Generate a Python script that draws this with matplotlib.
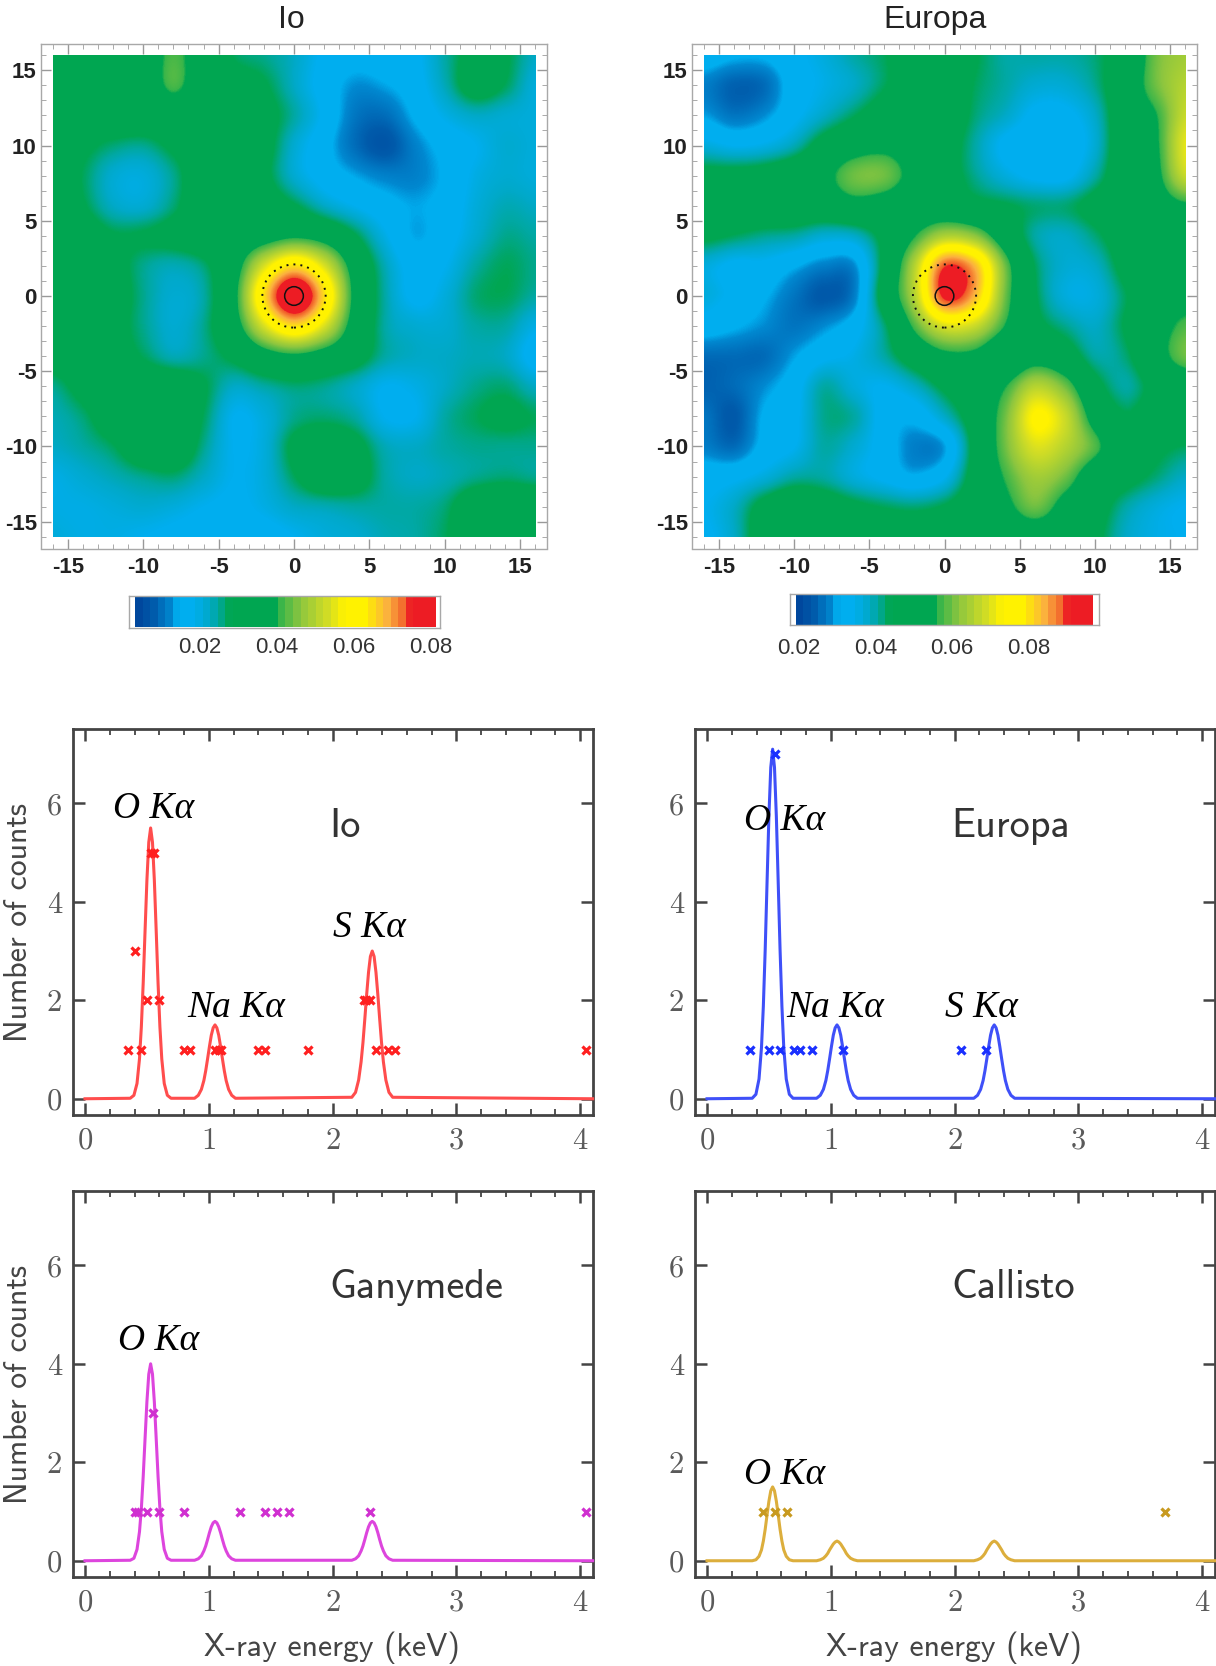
import numpy as np
import matplotlib
matplotlib.use("Agg")
import matplotlib.pyplot as plt
from matplotlib.colors import LinearSegmentedColormap
from matplotlib.patches import Circle, Rectangle
from matplotlib.ticker import FixedLocator, FixedFormatter

W, H = 1216, 1666

# ---------- map data (units of 0.001), rows y=16..-16, columns x=-16..16, step 2
io_map = [
 [33,33,33,35,42,35,27,25,22,17,15,16,17,24,30,28,22],
 [33,33,33,34,42,34,31,28,22,16,12,13,16,23,31,27,20],
 [32,32,33,33,34,34,33,30,24,17,10, 9,14,19,22,21,20],
 [32,29,26,25,29,33,33,30,21,15, 9, 6,11,15,18,21,20],
 [32,27,21,20,25,33,33,29,21,16,13,11,11,14,19,21,20],
 [33,28,22,21,26,33,33,32,28,22,18,15,13,15,20,23,22],
 [33,32,28,28,30,33,33,36,39,36,28,19,13,16,21,25,24],
 [33,33,30,25,23,26,36,54,65,54,36,23,16,18,24,27,25],
 [33,33,31,25,21,24,38,65,84,65,38,24,17,20,26,27,24],
 [33,33,30,25,21,25,36,54,65,54,36,24,21,21,24,24,19],
 [31,33,31,27,23,25,29,36,39,36,31,24,22,22,23,22,16],
 [25,30,33,33,33,28,22,24,26,25,22,18,19,22,25,26,22],
 [23,26,32,34,34,27,18,20,25,26,24,18,18,24,27,29,27],
 [22,24,27,33,34,25,18,20,29,33,30,23,22,24,25,25,25],
 [19,21,23,25,26,22,18,20,27,33,31,24,22,23,25,26,25],
 [19,19,20,21,20,18,17,19,22,23,24,24,24,26,33,35,34],
 [20,19,19,18,17,16,15,16,18,20,21,23,24,27,33,35,33],
]
europa_map = [
 [32,30,30,33,36,40,43,48,50,44,40,40,40,42,48,60,64],
 [27,24,25,32,35,38,43,48,49,43,40,37,37,41,50,60,66],
 [29,26,28,33,38,43,48,50,49,42,38,33,33,38,50,56,68],
 [36,34,35,39,47,52,54,51,47,40,33,31,31,37,50,55,71],
 [46,46,47,50,54,60,60,53,47,41,36,33,33,40,50,54,68],
 [50,50,50,50,50,53,52,50,49,46,44,42,42,46,51,52,55],
 [45,43,41,40,37,38,46,56,65,62,50,40,38,42,48,50,45],
 [36,33,33,30,27,28,46,66,90,84,60,43,37,38,46,50,45],
 [36,33,30,26,23,27,48,66,92,84,60,44,36,36,43,50,52],
 [32,30,28,26,28,32,42,58,70,68,56,46,41,38,44,52,58],
 [25,25,25,29,33,35,40,48,54,54,48,52,48,40,42,52,60],
 [24,25,28,32,40,36,34,38,45,50,56,66,60,46,40,46,50],
 [26,23,30,33,41,40,32,31,38,48,60,74,68,52,44,48,50],
 [27,25,31,34,40,37,32,27,29,46,60,70,66,58,48,45,43],
 [32,33,36,40,40,36,33,30,34,47,57,64,60,50,46,42,38],
 [34,38,46,50,48,45,43,42,44,49,54,60,53,47,40,36,34],
 [33,38,48,50,50,49,49,49,49,49,50,51,50,45,38,35,34],
]
map_names = ["Io", "Europa"]
io_range = [0.0031, 0.0813]
europa_range = [0.0194, 0.0966]
cbar_ticks = [0.02, 0.04, 0.06, 0.08]
map_ticks = [-15, -10, -5, 0, 5, 10, 15]

# ---------- spectra: curve samples
energy = [0,
 .365,.395,.42,.44,.455,.47,.485,.50,.515,.53,.545,.56,.575,.59,.605,.62,.64,.665,.695,
 .885,.915,.94,.96,.975,.99,1.005,1.02,1.035,1.05,1.065,1.08,1.095,1.11,1.125,1.14,1.16,1.185,1.215,
 2.155,2.185,2.21,2.23,2.245,2.26,2.275,2.29,2.305,2.32,2.335,2.35,2.365,2.38,2.395,2.41,2.43,2.455,2.485,
 4.1]
io_o   = [.01,.07,.31,.81,1.46,2.35,3.41,4.44,5.21,5.5,5.21,4.44,3.41,2.35,1.46,.81,.31,.07,.01]
eu_o   = [.01,.09,.40,1.04,1.88,3.03,4.40,5.74,6.73,7.1,6.73,5.74,4.40,3.03,1.88,1.04,.40,.09,.01]
ga_o   = [.01,.05,.23,.59,1.06,1.71,2.48,3.23,3.79,4.0,3.79,3.23,2.48,1.71,1.06,.59,.23,.05,.01]
ca_o   = [0,.02,.09,.22,.40,.64,.93,1.21,1.42,1.5,1.42,1.21,.93,.64,.40,.22,.09,.02,0]
peak_15 = [.01,.07,.19,.37,.57,.81,1.06,1.29,1.44,1.5,1.44,1.29,1.06,.81,.57,.37,.19,.07,.01]
peak_30 = [.03,.13,.38,.75,1.14,1.62,2.12,2.57,2.89,3.0,2.89,2.57,2.12,1.62,1.14,.75,.38,.13,.03]
peak_08 = [.01,.04,.10,.20,.30,.43,.57,.69,.77,.8,.77,.69,.57,.43,.30,.20,.10,.04,.01]
peak_04 = [0,.02,.05,.10,.15,.22,.28,.34,.38,.4,.38,.34,.28,.22,.15,.10,.05,.02,0]

curve_io = [0] + io_o + peak_15 + peak_30 + [0]
curve_eu = [0] + eu_o + peak_15 + peak_15 + [0]
curve_ga = [0] + ga_o + peak_08 + peak_08 + [0]
curve_ca = [0] + ca_o + peak_04 + peak_04 + [0]

io_x = [.35,.45,.80,.85,1.05,1.08,1.10,1.40,1.45,1.80,2.35,2.45,2.50,4.05,.50,.60,2.25,2.27,2.30,.40,.53,.56]
io_y = [1,1,1,1,1,1,1,1,1,1,1,1,1,1,2,2,2,2,2,3,5,5]
eu_x = [.35,.50,.59,.70,.75,.85,1.10,2.05,2.25,.55]
eu_y = [1,1,1,1,1,1,1,1,1,7]
ga_x = [.40,.43,.50,.60,.80,1.25,1.45,1.55,1.65,2.30,4.05,.55]
ga_y = [1,1,1,1,1,1,1,1,1,1,1,3]
ca_x = [.45,.55,.65,3.70]
ca_y = [1,1,1,1]

fig = plt.figure(figsize=(W/100, H/100), dpi=100, facecolor="white")

def rect_ax(l, t, r, b):
    return fig.add_axes([l/W, 1-b/H, (r-l)/W, (b-t)/H])

def ptext(x, y, s, **kw):
    kw.setdefault("ha", "center")
    kw.setdefault("va", "center")
    return fig.text(x/W, 1-y/H, s, **kw)

stops = [(0.0,"#00479d"),(0.05,"#005bab"),(0.11,"#0088d0"),(0.13,"#00aeef"),(0.19,"#00aeef"),
         (0.24,"#00a9c8"),(0.27,"#00a8a0"),(0.31,"#00a651"),(0.475,"#00a651"),(0.485,"#39b54a"),(0.55,"#8dc63f"),
         (0.65,"#d7df23"),(0.70,"#fff200"),(0.77,"#fff200"),(0.85,"#fbb040"),(0.915,"#f15a29"),
         (0.925,"#ed1c24"),(1.0,"#ed1c24")]
cmap = LinearSegmentedColormap.from_list("map", stops, N=512)
GREY = "#a8a8a8"

def draw_map(frame, grid, vr, title, title_x):
    ax = rect_ax(*frame)
    im = ax.imshow(np.array(grid)*0.001, extent=(-17,17,-17,17), origin="upper", cmap=cmap,
                   vmin=vr[0], vmax=vr[1], interpolation="catrom",
                   interpolation_stage="data", aspect="auto")
    im.set_clip_path(Rectangle((-16,-16), 32, 32, transform=ax.transData))
    ax.set_xlim(-16.78, 16.78); ax.set_ylim(-16.78, 16.78)
    ax.add_patch(Circle((0,0), 2.1, fill=False, ec="#111", lw=1.4, ls=(0,(1,2.6))))
    ax.add_patch(Circle((0,0), 0.62, fill=False, ec="#111", lw=1.1))
    for s in ax.spines.values():
        s.set_color(GREY); s.set_linewidth(1.0)
    for a in (ax.xaxis, ax.yaxis):
        a.set_major_locator(FixedLocator(map_ticks))
        a.set_major_formatter(FixedFormatter([str(t) for t in map_ticks]))
        a.set_minor_locator(FixedLocator(np.arange(-16, 17)))
    ax.tick_params(which="major", direction="in", length=7, width=1, color="#999", top=True, right=True,
                   labelsize=16, labelcolor="#222", pad=6)
    ax.tick_params(which="minor", direction="in", length=3.5, width=0.7, color="#aaa", top=True, right=True)
    for t in ax.get_xticklabels()+ax.get_yticklabels():
        t.set_fontfamily("Liberation Sans"); t.set_fontweight("bold")
    ax.tick_params(axis="y", pad=3)
    ptext(title_x, 20, title, family="Liberation Sans", fontsize=23, color="#222")

def draw_cbar(frame, inner_l, inner_r, vr, pad):
    ax = rect_ax(*frame)
    f = (frame[2]-frame[0])/(inner_r-inner_l)
    d0 = (inner_l-frame[0])/(inner_r-inner_l)*(vr[1]-vr[0])
    lo = vr[0]-d0; hi = lo+f*(vr[1]-vr[0])
    ax.imshow(np.linspace(vr[0], vr[1], 40)[None,:], extent=(vr[0],vr[1],0,1), cmap=cmap,
              vmin=vr[0], vmax=vr[1], aspect="auto", interpolation="nearest")
    ax.set_xlim(lo, hi); ax.set_ylim(0,1)
    ax.set_yticks([])
    ax.set_xticks(cbar_ticks, [f"{t:.2f}" for t in cbar_ticks])
    ax.tick_params(axis="x", length=0, pad=pad, labelsize=16, labelcolor="#333")
    for t in ax.get_xticklabels():
        t.set_fontfamily("Liberation Sans")
    for s in ax.spines.values():
        s.set_color(GREY); s.set_linewidth(1.0)

draw_map((41,43.5,547,548.5), io_map, io_range, map_names[0], 291.5)
draw_map((692,43.5,1197,548.5), europa_map, europa_range, map_names[1], 935)
draw_cbar((129,596,440,627.5), 135, 436, io_range, 7)
draw_cbar((790,594,1099,625), 796, 1093, europa_range, 9)

DARK = "#444444"
def draw_spec(frame, curve, mx, my, col, mcol, name, name_x, name_y, labels, xlabel, ylabel):
    ax = rect_ax(*frame)
    ax.set_xlim(-0.097, 4.103); ax.set_ylim(-0.33, 7.51)
    ax.plot(energy, curve, color=col, lw=2.2, solid_joinstyle="round", clip_on=False, zorder=3)
    ax.plot(mx, my, ls="none", marker="x", ms=6, mew=2.3, color=mcol, zorder=4, clip_on=False)
    for s in ax.spines.values():
        s.set_color(DARK); s.set_linewidth(2.0)
    ax.set_xticks([0,1,2,3,4], ["0","1","2","3","4"])
    ax.set_yticks([0,2,4,6], ["0","2","4","6"])
    ax.xaxis.set_minor_locator(FixedLocator(np.arange(0, 4.1, .2)))
    ax.tick_params(which="major", direction="in", length=8.5, width=1.8, color=DARK, top=True, right=True,
                   labelsize=22, labelcolor="#5a5a5a")
    ax.tick_params(axis="x", pad=9)
    ax.tick_params(axis="y", pad=8)
    ax.tick_params(which="minor", direction="in", length=4.5, width=1.3, color=DARK, top=True)
    for t in ax.get_xticklabels()+ax.get_yticklabels():
        t.set_fontfamily("cmr10")
    ptext(name_x, name_y+2, name, family="cmss10", fontsize=29, color="#333", ha="left")
    for (x, y, s) in labels:
        ptext(x, y+3, s, family="Liberation Serif", style="italic", fontsize=27, color="black", ha="left")
    if xlabel:
        ptext(xlabel[0], 1648, "X-ray energy (keV)", family="cmss10", fontsize=23, color="#444")
    if ylabel:
        ptext(19, ylabel, "Number of counts", family="cmss10", fontsize=23, color="#444", rotation=90)

RED, BLUE, MAG, OCH = "#ff4d4d", "#3f50f8", "#dd45dd", "#dcae3c"
draw_spec((73,729,593,1115), curve_io, io_x, io_y, RED, "#ff2020", "Io", 329, 825,
          [(113,806,"O Kα"),(187,1005,"Na Kα"),(333,925,"S Kα")], None, 922)
draw_spec((695,729,1215,1115), curve_eu, eu_x, eu_y, BLUE, "#1a30ff", "Europa", 951, 825,
          [(744,818,"O Kα"),(786,1005,"Na Kα"),(945,1005,"S Kα")], None, None)
draw_spec((73,1191,593,1577), curve_ga, ga_x, ga_y, MAG, "#d030d0", "Ganymede", 329, 1285,
          [(118,1338,"O Kα")], (332,), 1384)
draw_spec((695,1191,1215,1577), curve_ca, ca_x, ca_y, OCH, "#c89a20", "Callisto", 951, 1285,
          [(744,1472,"O Kα")], (954,), None)

fig.savefig("out.png", dpi=100)
